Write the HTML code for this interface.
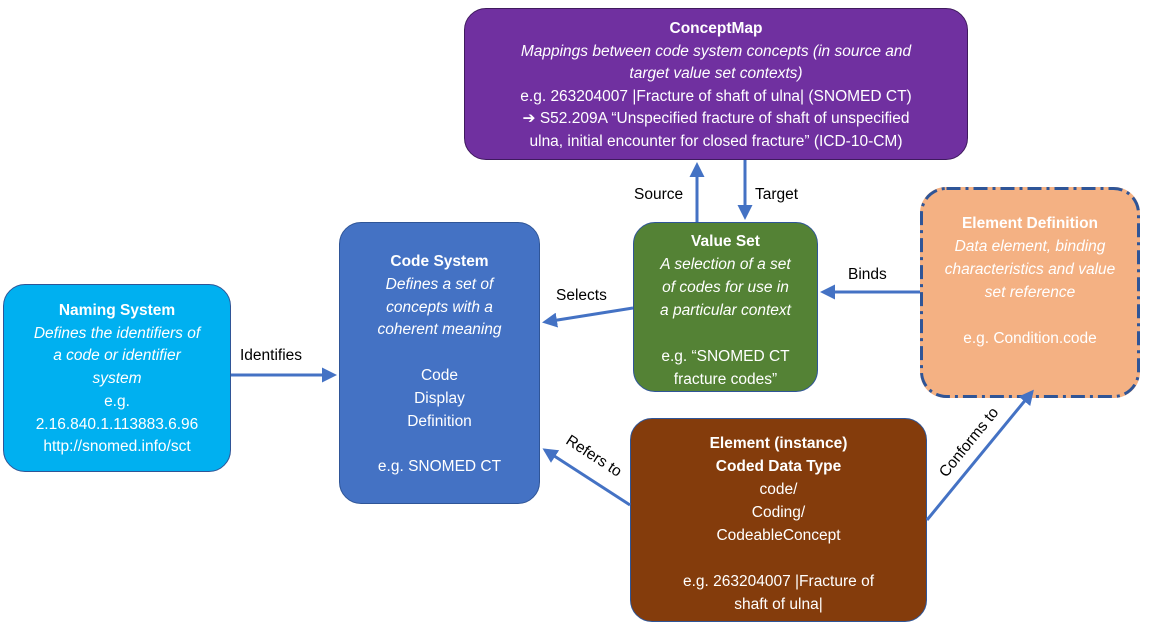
<!DOCTYPE html>
<html><head><meta charset="utf-8"><style>
body{margin:0;width:1155px;height:631px;background:#fff;position:relative;overflow:hidden;font-family:"Liberation Sans",sans-serif;}
.b{position:absolute;box-sizing:border-box;border-radius:22px;color:#fff;text-align:center;font-size:15.5px;line-height:23px;display:flex;flex-direction:column;justify-content:flex-start;}
.b b{font-weight:bold}
.b i{font-style:italic}
.lbl{position:absolute;font-size:15.5px;color:#000;}
</style></head><body>
<div class="b" style="left:464px;top:8px;width:504px;height:152px;background:#7030A0;border:1.5px solid #3f1a5e;padding-top:9px;line-height:22.6px;">
<b>ConceptMap</b>
<i>Mappings between code system concepts (in source and<br>target value set contexts)</i>
<span>e.g. 263204007 |Fracture of shaft of ulna| (SNOMED CT)</span>
<span>➔ S52.209A “Unspecified fracture of shaft of unspecified<br>ulna, initial encounter for closed fracture” (ICD-10-CM)</span>
</div>
<div class="b" style="left:339px;top:222px;width:201px;height:282px;background:#4472C4;border:1.5px solid #2f5597;padding-top:28px;line-height:22.8px;">
<b>Code System</b><i>Defines a set of<br>concepts with a<br>coherent meaning</i><br><span>Code<br>Display<br>Definition</span><br><span>e.g. SNOMED CT</span>
</div>
<div class="b" style="left:3px;top:284px;width:228px;height:188px;background:#00B0F0;border:1.5px solid #2f5597;padding-top:15px;line-height:22.7px;">
<b>Naming System</b><i>Defines the identifiers of<br>a code or identifier<br>system</i><span>e.g.<br>2.16.840.1.113883.6.96<br>http://snomed.info/sct</span>
</div>
<div class="b" style="left:633px;top:222px;width:185px;height:170px;background:#548235;border:1.5px solid #2f5597;padding-top:7px;">
<b>Value Set</b><i>A selection of a set<br>of codes for use in<br>a particular context</i><br><span>e.g. “SNOMED CT<br>fracture codes”</span>
</div>
<div class="b" style="left:920px;top:187px;width:220px;height:211px;background:#F4B183;padding-top:25px;border-radius:26px;">
<b>Element Definition</b><i>Data element, binding<br>characteristics and value<br>set reference</i><br><span>e.g. Condition.code</span>
</div>
<div class="b" style="left:630px;top:418px;width:297px;height:204px;background:#843C0C;border:1.5px solid #2f5597;padding-top:13px;">
<b>Element (instance)<br>Coded Data Type</b><span>code/<br>Coding/<br>CodeableConcept</span><br><span>e.g. 263204007 |Fracture of<br>shaft of ulna|</span>
</div>
<svg width="1155" height="631" style="position:absolute;left:0;top:0">
<defs><marker id="a" markerWidth="5" markerHeight="5" refX="4" refY="2.5" orient="auto" markerUnits="strokeWidth"><path d="M0,0L5,2.5L0,5z" fill="#4472C4"/></marker></defs>
<rect x="921.5" y="188.5" width="217" height="208" rx="25" fill="none" stroke="#2F5597" stroke-width="3" stroke-dasharray="14 5 3 5"/>
<g stroke="#4472C4" stroke-width="3" marker-end="url(#a)">
<line x1="231" y1="375" x2="334" y2="375"/>
<line x1="633" y1="308" x2="545" y2="322"/>
<line x1="920" y1="292" x2="823" y2="292"/>
<line x1="697" y1="222" x2="697" y2="165"/>
<line x1="745" y1="160" x2="745" y2="217"/>
<line x1="630" y1="505" x2="545" y2="450"/>
<line x1="927" y1="520" x2="1032" y2="392"/>
</g>
</svg>
<div class="lbl" style="left:240px;top:347px;">Identifies</div>
<div class="lbl" style="left:556px;top:287px;">Selects</div>
<div class="lbl" style="left:848px;top:266px;">Binds</div>
<div class="lbl" style="left:634px;top:186px;">Source</div>
<div class="lbl" style="left:755px;top:186px;">Target</div>
<div class="lbl" style="left:572px;top:432px;transform:rotate(33deg);transform-origin:0 0;">Refers to</div>
<div class="lbl" style="left:936px;top:470px;transform:rotate(-51deg);transform-origin:0 0;">Conforms to</div>
</body></html>
